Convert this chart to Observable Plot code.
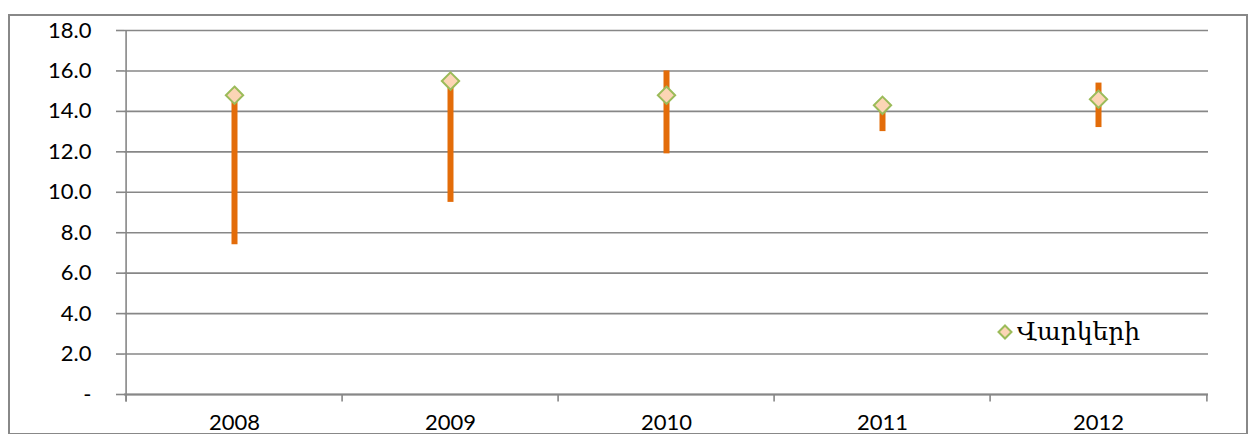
<!DOCTYPE html>
<html>
<head>
<meta charset="utf-8">
<script src="https://cdn.jsdelivr.net/npm/d3@7"></script>
<script src="https://cdn.jsdelivr.net/npm/@observablehq/plot@0.6"></script>
<style>
  html, body { margin: 0; padding: 0; background: #fff; }
  #wrap { position: relative; width: 1250px; height: 434px; overflow: hidden; }
  #frame { position: absolute; left: 8px; top: 14px; width: 1236px; height: 417px; border: 2px solid #888; pointer-events: none; }
  #chart { position: absolute; left: 0; top: 0; }
  #legend { position: absolute; left: 997px; top: 317px; display: flex; align-items: center; font-family: "DejaVu Serif", serif; font-size: 25px; color: #000; }
  #legend svg { margin-right: 4px; }
</style>
</head>
<body>
<div id="wrap">
  <div id="chart"></div>
  <div id="legend"></div>
  <div id="frame"></div>
</div>
<script>
const years = ["2008", "2009", "2010", "2011", "2012"];
const values = [14.8, 15.5, 14.8, 14.3, 14.6];
const lows = [7.4, 9.5, 11.9, 13.0, 13.2];
const highs = [14.8, 15.5, 16.0, 14.3, 15.4];
const yTicks = [0, 2, 4, 6, 8, 10, 12, 14, 16, 18];
const seriesName = "Վարկերի";

const data = years.map((y, i) => ({year: y, value: values[i], low: lows[i], high: highs[i]}));

const W = 1250, H = 434;
const mL = 124, mR = 42, mT = 30, mB = 40;
const bw = (W - mL - mR) / years.length;
const gridColor = "#878787";

const chart = Plot.plot({
  width: W,
  height: H,
  marginLeft: mL,
  marginRight: mR,
  marginTop: mT,
  marginBottom: mB,
  style: {fontFamily: "Lato, 'Open Sans', sans-serif", fontSize: "22px", color: "#000", background: "transparent", overflow: "visible"},
  x: {type: "band", domain: years, padding: 0},
  y: {domain: [0, 18]},
  marks: [
    Plot.gridY(yTicks, {stroke: gridColor, strokeOpacity: 1, strokeWidth: 1.6}),
    Plot.axisY(yTicks, {tickSize: 8, tickPadding: 25, stroke: gridColor, strokeWidth: 1.6, tickFormat: d => d === 0 ? "-" : d.toFixed(1), fontSize: 22, label: null}),
    // x tick marks at band edges
    Plot.ruleX(years, {x: d => d, dx: -bw / 2, y1: -0.37, y2: 0, stroke: gridColor, strokeWidth: 1.6}),
    Plot.ruleX(years.slice(-1), {x: d => d, dx: bw / 2, y1: -0.37, y2: 0, stroke: gridColor, strokeWidth: 1.6}),
    // y axis line
    Plot.ruleX(years.slice(0, 1), {x: d => d, dx: -bw / 2, y1: -0.37, y2: 18, stroke: gridColor, strokeWidth: 1.6}),
    Plot.ruleY([0], {stroke: gridColor, strokeWidth: 2}),
    Plot.axisX({tickSize: 0, tickPadding: 20, fontSize: 22, label: null}),
    Plot.ruleX(data, {x: "year", y1: "low", y2: "high", stroke: "#E36C09", strokeWidth: 6}),
    Plot.dot(data, {x: "year", y: "value", symbol: "diamond2", r: 7.8, fill: "#FCD5B5", stroke: "#9BBB59", strokeWidth: 2})
  ]
});
document.getElementById("chart").appendChild(chart);

const legend = document.getElementById("legend");
legend.innerHTML = `<svg width="16" height="16" viewBox="-8 -8 16 16"><path d="M0,-6.5L6.5,0L0,6.5L-6.5,0Z" fill="#FCD5B5" stroke="#9BBB59" stroke-width="2"/></svg><span>${seriesName}</span>`;
</script>
</body>
</html>
